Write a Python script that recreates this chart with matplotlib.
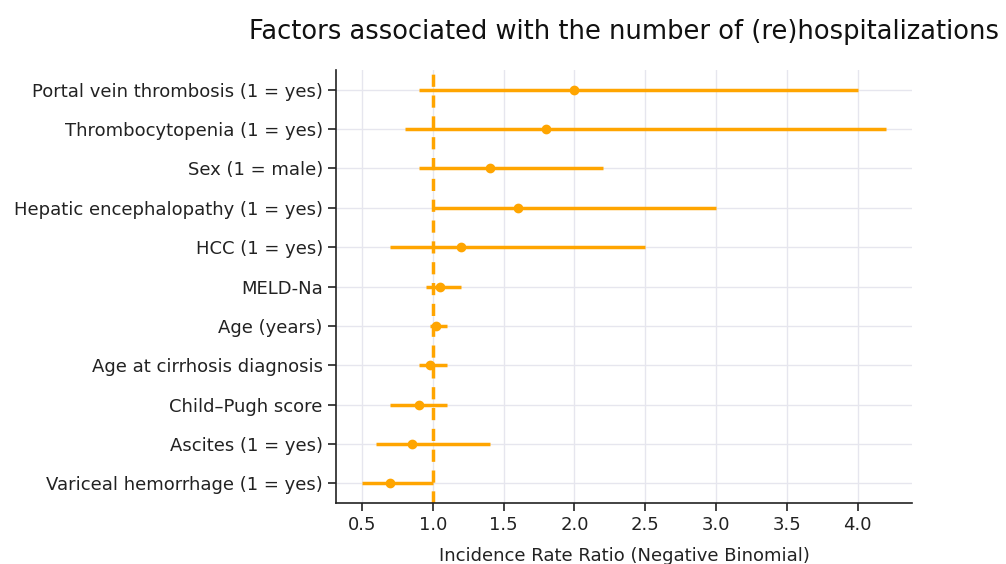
import matplotlib
matplotlib.use("Agg")
import matplotlib.pyplot as plt
import numpy as np

plt.rcParams["font.family"] = ["DejaVu Sans"]

labels = [
    "Portal vein thrombosis (1 = yes)",
    "Thrombocytopenia (1 = yes)",
    "Sex (1 = male)",
    "Hepatic encephalopathy (1 = yes)",
    "HCC (1 = yes)",
    "MELD-Na",
    "Age (years)",
    "Age at cirrhosis diagnosis",
    "Child\u2013Pugh score",
    "Ascites (1 = yes)",
    "Variceal hemorrhage (1 = yes)",
]
irr = [2.0, 1.8, 1.4, 1.6, 1.2, 1.05, 1.02, 0.98, 0.9, 0.85, 0.7]
ci_low = [0.9, 0.8, 0.9, 1.0, 0.7, 0.95, 0.98, 0.9, 0.7, 0.6, 0.5]
ci_high = [4.0, 4.2, 2.2, 3.0, 2.5, 1.2, 1.1, 1.1, 1.1, 1.4, 1.0]

color = "#FFA500"

fig = plt.figure(figsize=(10.06, 5.64), dpi=100)
ax = fig.add_axes([0.334, 0.108, 0.5726, 0.768])

n = len(labels)
ypos = np.arange(n)[::-1]
est = np.array(irr)
lo = est - np.array(ci_low)
hi = np.array(ci_high) - est

ax.errorbar(est, ypos, xerr=[lo, hi], fmt="o", color=color, ecolor=color,
            elinewidth=2.5, markersize=6, capsize=0, zorder=3)
ax.axvline(1.0, color=color, linestyle=(0, (3.5, 2.5)), linewidth=2.5, zorder=2)

ax.set_yticks(ypos)
ax.set_yticklabels(labels, fontsize=13)
ax.set_xticks([0.5, 1.0, 1.5, 2.0, 2.5, 3.0, 3.5, 4.0])
ax.tick_params(axis="x", labelsize=13)
ax.tick_params(axis="both", direction="out", length=6, width=1.2, color="#222222",
               labelcolor="#222222")
ax.set_xlabel("Incidence Rate Ratio (Negative Binomial)", fontsize=13, labelpad=9,
              color="#222222")
ax.set_title("Factors associated with the number of (re)hospitalizations", fontsize=18.5,
             pad=22, color="#111111")

ax.grid(True, color="#e6e6ee", linewidth=1.0, zorder=0)
ax.set_axisbelow(True)
for s in ["top", "right"]:
    ax.spines[s].set_visible(False)
for s in ["left", "bottom"]:
    ax.spines[s].set_color("#222222")
    ax.spines[s].set_linewidth(1.2)

fig.savefig("out.png", dpi=100)
